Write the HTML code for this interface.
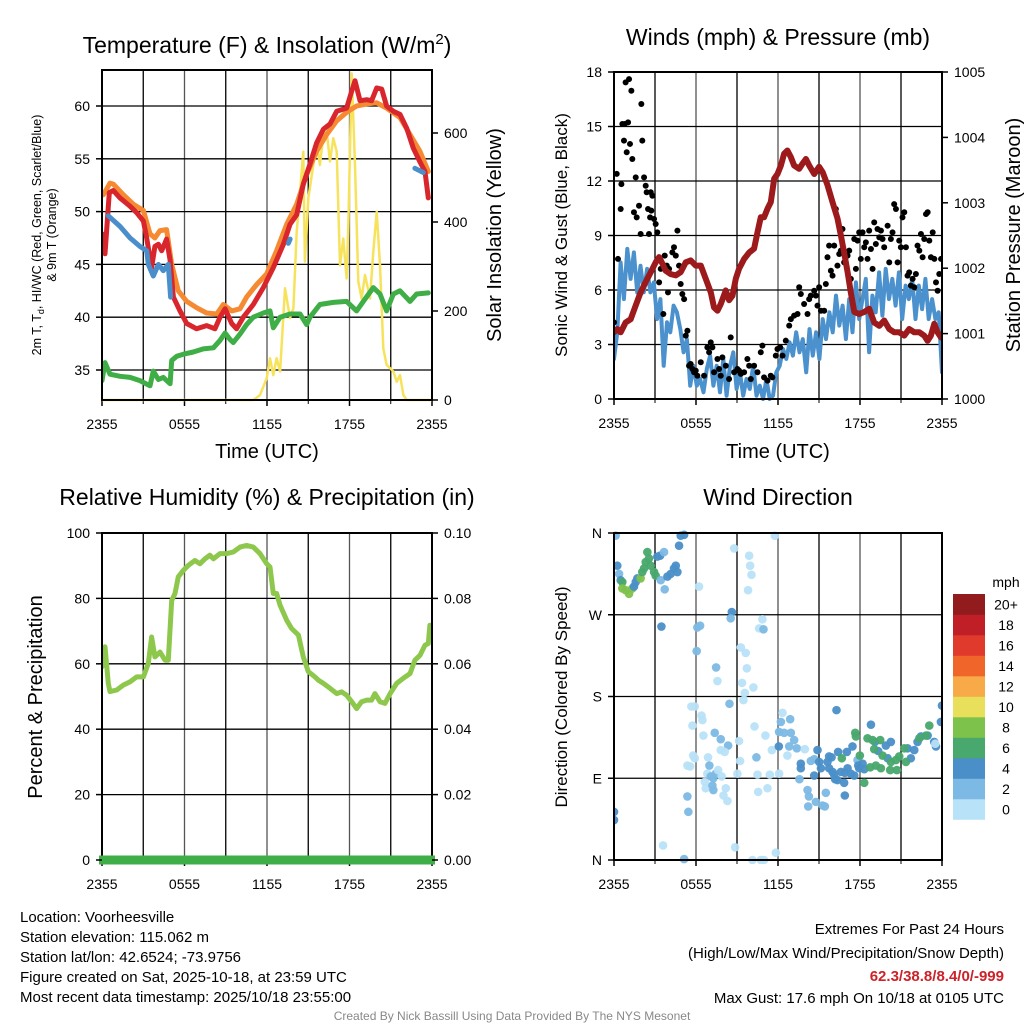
<!DOCTYPE html>
<html><head><meta charset="utf-8">
<style>
html,body{margin:0;padding:0;background:#fff;}
svg text{font-family:"Liberation Sans",Arial,sans-serif;fill:#000;}
</style></head>
<body>
<svg id="chart" width="1024" height="1024" viewBox="0 0 1024 1024" xmlns="http://www.w3.org/2000/svg">
<text x="267" y="53" font-size="23" text-anchor="middle">Temperature (F) &amp; Insolation (W/m<tspan dy="-9" font-size="15">2</tspan><tspan dy="9">)</tspan></text>
<text x="778" y="45" font-size="23" text-anchor="middle">Winds (mph) &amp; Pressure (mb)</text>
<text x="267" y="505" font-size="23" text-anchor="middle">Relative Humidity (%) &amp; Precipitation (in)</text>
<text x="778" y="505" font-size="23" text-anchor="middle">Wind Direction</text>

<text transform="translate(41,235) rotate(-90)" font-size="12.5" text-anchor="middle">2m T, T<tspan font-size="9" dy="3">d</tspan><tspan dy="-3">, HI/WC (Red, Green, Scarlet/Blue)</tspan></text>
<text transform="translate(56,235) rotate(-90)" font-size="12.5" text-anchor="middle">&amp; 9m T (Orange)</text>
<text transform="translate(501,235) rotate(-90)" font-size="20" text-anchor="middle">Solar Insolation (Yellow)</text>
<text transform="translate(567,235) rotate(-90)" font-size="17" text-anchor="middle">Sonic Wind &amp; Gust (Blue, Black)</text>
<text transform="translate(1020,235) rotate(-90)" font-size="20" text-anchor="middle">Station Pressure (Maroon)</text>
<text transform="translate(42,697) rotate(-90)" font-size="20" text-anchor="middle">Percent &amp; Precipitation</text>
<text transform="translate(567,697) rotate(-90)" font-size="17" text-anchor="middle">Direction (Colored By Speed)</text>
<text x="267" y="458" font-size="20" text-anchor="middle">Time (UTC)</text>
<text x="778" y="458" font-size="20" text-anchor="middle">Time (UTC)</text>

<g font-size="15">
<text x="20" y="922">Location: Voorheesville</text>
<text x="20" y="942">Station elevation: 115.062 m</text>
<text x="20" y="962">Station lat/lon: 42.6524; -73.9756</text>
<text x="20" y="982">Figure created on Sat, 2025-10-18, at 23:59 UTC</text>
<text x="20" y="1002">Most recent data timestamp: 2025/10/18 23:55:00</text>
</g>
<g font-size="15" text-anchor="end">
<text x="1004" y="934">Extremes For Past 24 Hours</text>
<text x="1004" y="958">(High/Low/Max Wind/Precipitation/Snow Depth)</text>
<text x="1004" y="981" font-weight="bold" style="fill:#cc2229">62.3/38.8/8.4/0/-999</text>
<text x="1004" y="1003">Max Gust: 17.6 mph On 10/18 at 0105 UTC</text>
</g>
<text x="512" y="1020" font-size="12" text-anchor="middle" style="fill:#888">Created By Nick Bassill Using Data Provided By The NYS Mesonet</text>
</svg>
<script>
// ---------- DATA ----------
const timeTickLabels = ["2355","0555","1155","1755","2355"];
// Panel 1
const tempTicks = [35,40,45,50,55,60];
const solarTicks = [0,200,400,600];
const redT = [0,.22,.53,.82,1.31,2.04,2.52,3.01,3.25,3.61,3.85,4.10,4.34,4.70,4.95,5.19,5.67,6.16,6.88,7.61,8.22,8.58,8.95,9.43,9.79,10.28,11.0,11.73,12.46,13.19,13.67,14.16,14.64,15.13,15.61,16.1,16.58,17.07,17.79,18.16,18.4,18.76,19.25,19.61,19.98,20.34,20.7,21.19,21.67,22.16,22.64,23.13,23.49,23.73];
const redV = [47.9,46.0,51.8,52.0,51.3,50.5,49.9,49.1,47.5,44.7,46.7,46.9,46.3,47.4,45.4,41.9,40.6,39.4,38.9,39.2,38.9,40.0,40.8,39.4,38.9,40.0,41.2,42.8,44.7,46.9,48.8,49.7,52.6,54.5,56.5,57.8,58.3,59.5,59.8,61.4,62.4,60.5,60.6,60.5,61.7,61.6,60.0,59.5,59.2,57.9,56.0,54.7,53.8,51.3];
const orangeT = [.1,.58,.82,1.55,2.28,3.01,3.49,3.85,4.22,4.70,5.07,5.55,6.16,6.88,7.61,8.34,8.82,9.43,10.04,10.52,11.25,11.98,12.7,13.43,14.16,14.88,15.61,16.34,17.07,17.79,18.52,19.25,19.98,20.7,21.67,22.4,23.13,23.73];
const orangeV = [51.6,52.7,52.6,51.6,50.7,50.1,47.9,47.5,48.2,48.3,45.0,42.5,41.5,40.9,40.4,40.3,41.2,40.6,40.8,41.9,43.1,44.1,46.3,48.8,50.7,53.5,55.7,57.3,58.6,59.4,60.0,60.2,60.3,59.8,58.9,57.3,55.7,53.8];
const hiwcT = [.46,1.31,2.04,2.76,3.25,3.37,3.73,4.10,4.46,4.82,4.99,null,13.55,13.68,null,22.76,23.37];
const hiwcV = [49.6,48.6,47.5,46.7,46.3,45.0,43.9,45.0,44.4,45.0,41.9,null,47.0,47.4,null,54.1,53.7];
const dewT = [0,.22,.58,1.31,2.04,2.76,3.49,3.73,4.10,4.46,4.95,5.07,5.43,5.92,6.64,7.37,8.10,8.58,8.95,9.31,9.55,10.04,10.52,11.0,11.73,12.22,12.46,12.95,13.67,14.4,14.88,15.13,15.85,16.82,17.79,18.52,19.0,19.73,20.22,20.7,21.19,21.67,22.4,22.88,23.73];
const dewV = [34.0,35.7,34.6,34.4,34.3,34.0,33.5,34.9,34.1,34.3,33.7,35.9,36.3,36.5,36.7,37.0,37.1,37.8,38.5,37.9,37.6,38.4,39.3,40.0,40.4,40.6,39.0,40.0,40.3,40.3,39.3,40.0,41.2,41.4,41.5,40.6,41.5,42.8,42.2,40.6,42.2,42.5,41.5,42.2,42.3];
const solarT = [0,11.0,11.49,11.98,12.22,12.46,12.7,12.95,13.31,13.67,13.92,14.16,14.4,14.64,14.76,15.0,15.37,15.61,15.85,16.1,16.34,16.58,16.82,17.07,17.31,17.55,17.79,17.92,18.16,18.4,18.64,18.88,19.13,19.49,19.73,19.98,20.22,20.46,20.7,21.19,21.43,21.67,21.92,22.16,24];
const solarV = [0,0,11,49,94,56,94,64,251,184,206,378,468,558,311,453,528,581,528,596,603,536,588,558,303,363,273,400,734,528,266,228,281,228,333,423,303,116,79,64,41,56,11,0,0];
// Panel 2
const windTicks = [0,3,6,9,12,15,18];
const presTicks = [1000,1001,1002,1003,1004,1005];
const sonicV = [2.20,3.67,7.52,5.50,8.26,6.61,8.07,5.87,7.34,5.87,7.16,5.87,6.42,4.40,5.50,1.83,4.22,3.67,5.14,4.77,3.85,2.57,3.30,0.73,1.83,0.73,1.10,0.37,1.65,2.39,0.73,1.83,0.37,2.20,0.18,1.83,2.57,0.55,1.47,0.18,1.10,0.55,1.83,0.18,0.73,0,1.10,0,0.18,1.47,1.83,2.75,2.20,3.12,2.39,3.67,2.57,3.30,1.47,3.85,2.39,3.67,2.20,4.40,3.30,4.77,3.67,5.69,4.04,5.14,3.30,5.50,3.67,6.42,4.40,5.50,6.61,2.57,5.69,4.77,6.97,4.59,7.16,5.50,6.61,5.14,6.97,4.40,6.24,5.50,6.61,4.40,6.24,4.95,6.61,4.40,5.50,4.40,4.77,1.47];
const gustT = [0,.20,.29,.49,.54,.61,.73,.78,.85,.93,1.03,1.10,1.17,1.27,1.34,1.46,1.59,1.66,1.83,1.95,2.00,2.07,2.20,2.32,2.39,2.49,2.56,2.64,2.69,2.73,2.81,2.93,3.05,3.17,3.30,3.42,3.61,3.71,3.86,3.95,4.03,4.27,4.39,4.52,4.64,4.76,4.88,5.00,5.13,5.25,5.37,5.49,5.61,5.74,5.86,5.98,6.10,6.35,6.59,6.83,6.96,7.08,7.20,7.32,7.57,7.69,7.81,7.93,8.18,8.42,8.54,8.79,9.03,9.15,9.28,9.52,9.76,9.89,10.01,10.25,10.50,10.74,10.86,10.98,11.23,11.47,11.59,11.84,11.96,12.16,12.33,12.57,12.82,12.94,13.18,13.43,13.55,13.67,13.91,14.16,14.28,14.40,14.65,14.77,14.89,15.01,15.14,15.38,15.50,15.62,15.74,15.87,15.99,16.11,16.23,16.35,16.48,16.60,16.72,16.84,17.09,17.21,17.33,17.58,17.70,17.82,17.94,18.06,18.19,18.31,18.43,18.55,18.67,18.80,18.92,19.04,19.16,19.28,19.41,19.53,19.65,19.77,20.02,20.14,20.26,20.38,20.50,20.63,20.75,20.87,20.99,21.11,21.24,21.36,21.48,21.60,21.72,21.85,21.97,22.09,22.21,22.34,22.46,22.58,22.70,22.83,22.95,23.07,23.19,23.32,23.44,23.56,23.68,23.80,23.93];
const gustV = [4.22,12.39,7.71,10.46,11.83,15.14,14.22,15.14,17.43,13.58,15.23,17.61,14.04,16.97,13.21,10.28,12.20,10.00,10.64,9.08,16.24,14.22,12.20,11.74,11.38,10.46,9.08,10.00,11.38,10.37,11.19,9.91,9.63,9.17,6.42,7.16,4.68,7.89,7.34,5.87,7.16,8.07,8.35,7.89,9.27,7.34,6.33,5.78,5.50,3.49,3.76,1.83,1.93,1.65,1.47,1.56,1.28,2.02,1.28,2.84,2.57,3.12,2.84,1.47,2.20,1.65,1.28,2.29,1.83,1.10,3.39,1.47,1.65,1.56,1.38,1.47,2.20,1.83,1.10,1.83,1.47,2.57,2.94,1.19,1.01,1.28,1.19,2.39,2.75,2.84,2.39,3.21,4.04,4.40,4.59,4.68,6.15,5.78,5.23,4.68,5.50,5.69,5.96,5.69,5.14,6.15,4.86,4.86,6.33,7.80,8.44,7.06,6.79,8.44,10.46,7.34,7.98,8.17,9.36,7.52,7.89,8.17,6.61,8.81,7.16,8.72,9.17,7.71,9.17,8.35,8.62,7.71,9.27,8.26,7.16,9.72,8.53,9.36,8.90,9.27,8.81,8.35,9.54,7.52,8.81,9.17,10.73,10.46,7.52,8.72,8.35,10.00,10.28,8.35,6.79,6.97,6.24,6.61,6.15,6.88,8.44,8.17,9.08,7.80,8.81,10.18,10.28,8.72,7.80,9.17,7.71,6.42,5.96,6.88,7.71];
const presT = [0,.24,.49,.85,1.22,1.59,1.95,2.32,2.69,3.05,3.30,3.54,3.78,4.15,4.52,4.88,5.25,5.61,5.98,6.35,6.71,7.08,7.32,7.57,7.81,8.18,8.42,8.67,8.91,9.15,9.52,9.89,10.25,10.50,10.74,10.98,11.23,11.47,11.72,11.96,12.21,12.45,12.69,12.94,13.18,13.55,13.79,14.04,14.28,14.65,15.01,15.26,15.62,15.99,16.35,16.60,16.84,17.09,17.33,17.58,17.94,18.31,18.67,19.04,19.41,19.77,20.14,20.50,20.87,21.24,21.60,21.97,22.34,22.70,22.95,23.19,23.44,23.68,23.93];
const presV = [1001.02,1001.07,1001.02,1001.17,1001.22,1001.43,1001.63,1001.79,1001.94,1002.09,1002.17,1002.07,1001.96,1001.91,1001.89,1001.94,1002.09,1002.12,1002.04,1002.04,1001.84,1001.63,1001.40,1001.35,1001.45,1001.66,1001.51,1001.58,1001.84,1001.99,1002.14,1002.24,1002.30,1002.55,1002.78,1002.78,1002.91,1003.01,1003.37,1003.44,1003.57,1003.75,1003.80,1003.70,1003.57,1003.52,1003.60,1003.67,1003.57,1003.44,1003.55,1003.47,1003.27,1003.01,1002.76,1002.50,1002.24,1001.94,1001.63,1001.33,1001.30,1001.33,1001.38,1001.17,1001.12,1001.20,1001.07,1001.02,1001.02,1000.97,1001.07,1001.02,1001.02,1000.97,1000.89,1000.97,1001.15,1001.02,1000.94];
// Panel 3
const rhTicks = [0,20,40,60,80,100];
const precipTicks = ["0.00","0.02","0.04","0.06","0.08","0.10"];
const rhT = [0,.22,.46,.58,1.07,1.55,2.04,2.52,3.01,3.37,3.61,3.85,4.22,4.58,4.82,5.07,5.31,5.55,5.92,6.28,6.76,7.13,7.49,7.85,8.10,8.58,9.07,9.55,10.04,10.52,11.0,11.49,11.98,12.22,12.46,12.70,12.95,13.43,13.79,14.28,14.64,15.0,15.49,15.73,16.1,16.58,17.07,17.43,17.79,18.16,18.52,18.88,19.25,19.61,19.85,20.22,20.58,20.95,21.43,21.92,22.40,22.76,23.13,23.49,23.73,23.85];
const rhV = [59.1,65.2,54.0,51.5,52.0,53.5,54.5,56.0,56.0,60.1,68.2,62.1,63.6,61.1,61.1,79.4,81.5,86.6,88.6,90.1,91.6,90.6,92.1,93.2,92.1,93.7,93.7,94.2,95.7,96.2,95.7,93.7,90.6,89.6,81.5,81.5,77.9,73.3,70.8,68.8,62.1,57.6,56.0,55.0,54.0,52.5,50.9,51.4,50.4,48.4,46.3,48.4,48.9,48.9,50.9,48.4,47.9,50.9,54.0,55.6,57.0,61.1,62.6,65.7,66.2,71.8];
const precipT = [0,24];
const precipV = [0,0];
// Panel 4
const dirTickLabels = ["N","E","S","W","N"];
const speedBins = ["0","2","4","6","8","10","12","14","16","18","20+"];
const speedColors = ["#b8e2f7","#7cb9e4","#4a8fc8","#48a86d","#7dc24b","#e8df5a","#f8a948","#f06529","#e03a2c","#c01f28","#921b1e"];
const wdT = [.12,.24,.37,.49,.61,.61,.85,1.10,1.34,1.46,1.59,1.71,1.95,2.07,2.20,2.32,2.44,2.56,2.69,2.93,3.05,3.17,3.37,3.42,3.66,3.71,3.91,4.15,4.39,4.52,4.64,4.76,4.88,5.13,3.47,6.10,6.30,6.05,6.22,8.62,8.54,8.79,9.89,9.96,10.06,9.81,10.86,10.62,10.94,9.28,9.64,7.47,7.57,9.72,9.37,9.57,10.20,9.47,11.77,5.66,5.91,6.40,6.47,5.74,6.54,7.37,7.81,8.35,8.10,8.45,7.81,5.79,5.91,5.37,5.57,6.88,6.98,6.83,7.08,7.27,7.45,7.88,7.62,6.64,6.71,7.20,7.27,8.18,8.01,8.30,5.37,5.44,0,0,3.59,8.86,5.13,10.13,10.74,10.98,11.84,9.15,9.23,9.03,10.28,11.08,10.42,10.50,10.55,11.23,11.40,11.55,12.08,12.33,12.21,12.89,12.08,12.45,12.94,13.18,12.82,13.38,12.69,13.96,12.06,13.67,13.67,13.57,14.16,14.26,14.21,14.77,15.26,15.43,15.50,14.40,14.65,14.89,15.01,15.14,14.65,15.74,15.92,15.62,15.74,15.99,16.11,16.35,16.60,16.89,17.09,17.33,17.58,17.94,18.31,16.84,16.89,16.28,16.40,17.04,17.45,17.82,17.87,18.19,18.80,19.09,20.26,19.89,19.33,20.02,21.48,21.72,21.97,22.21,22.46,22.95,23.43,23.56,23.92,24.0,23.51,16.18,16.67,17.65,17.99,18.31,18.55,18.92,19.48,19.04,19.16,19.65,20.26,20.21,20.70,20.63,20.87,21.24,21.36,22.34,22.83,23.07,18.75,19.53,17.70];
const wdDir = [357,324,315,308,306,299,297,293,299,301,306,310,310,317,321,328,339,332,324,317,313,334,335,308,339,298,312,315,321,324,317,346,357,358,257,256,258,230,301,273,266,343,335,324,314,297,265,255,254,234,228,212,197,211,195,184,190,176,357,169,169,159,154,148,137,140,133,126,119,172,121,115,112,104,103,113,104,95,92,90,95,92,99,86,79,82,77,79,71,65,70,53,53,44,16,14,1,0,0,0,8,131,109,95,147,137,113,94,75,79,94,121,95,162,152,155,141,140,140,132,125,123,115,122,125,106,101,89,77,70,59,64,60,59,74,109,111,121,108,101,93,114,113,108,101,97,94,88,97,96,101,95,93,101,100,85,71,165,119,119,125,110,104,106,149,130,130,126,120,112,123,112,121,130,136,137,130,125,152,170,128,89,112,140,115,85,134,132,132,122,104,115,108,99,99,110,114,123,108,134,137,148,102,101,136];
const wdSpd = [3,5,3,5,7,9,9,9,9,5,5,5,9,7,7,7,7,7,7,7,7,5,5,3,3,3,5,5,5,5,5,5,5,5,5,3,3,3,1,5,3,1,1,1,1,1,1,1,3,1,1,3,1,1,1,1,1,1,1,1,1,1,1,1,1,3,3,3,1,3,1,1,1,1,1,1,3,1,3,3,3,1,1,1,1,3,3,1,1,1,3,3,5,5,1,1,3,1,1,1,1,1,1,1,1,1,3,1,1,1,1,1,1,1,3,3,3,3,3,3,3,3,1,1,5,5,5,3,3,3,3,3,3,3,3,3,3,5,5,5,5,5,5,5,5,5,5,5,5,5,5,5,5,5,5,5,5,5,5,5,5,3,5,5,5,5,5,5,5,5,5,5,5,5,5,5,5,5,5,5,1,5,7,7,7,7,7,7,7,7,7,7,7,7,7,7,7,7,7,7,7,7,7,7,7,5];

// ---------- DRAWING ----------
const NS = "http://www.w3.org/2000/svg";
const svg = document.getElementById("chart");
function mk(tag, attrs, parent) {
  const e = document.createElementNS(NS, tag);
  for (const k in attrs) e.setAttribute(k, attrs[k]);
  (parent || svg).appendChild(e);
  return e;
}
function lin(d0, d1, r0, r1) { return v => r0 + (v - d0) / (d1 - d0) * (r1 - r0); }

const panels = {
  temp: {x0:102,x1:432,y0:70,y1:400},
  wind: {x0:614,x1:942,y0:72,y1:399},
  rh:   {x0:102,x1:432,y0:533,y1:860},
  dir:  {x0:614,x1:942,y0:533,y1:860}
};

function drawFrame(key, p, hLines) {
  const g = mk("g", {});
  
  
  const xs = lin(0, 24, p.x0, p.x1);
  for (let h = 3; h < 24; h += 3) {
    const gl = mk("line", {x1:xs(h), x2:xs(h), y1:p.y0, y2:p.y1, stroke: h%6===0 ? "#555" : "#000", "stroke-width":1.3}, g);
    
    
  }
  hLines.forEach(y => {
    const gl = mk("line", {x1:p.x0, x2:p.x1, y1:y, y2:y, stroke:"#000", "stroke-width":1.3}, g);
    
    
  });
  // x ticks + labels
  timeTickLabels.forEach((lab, i) => {
    const x = xs(i * 6);
    mk("line", {x1:x, x2:x, y1:p.y1, y2:p.y1+6, stroke:"#000", "stroke-width":1.5}, g);
    const t = mk("text", {x:x, y:p.y1+29, "font-size":14, "text-anchor":"middle"}, g);
    t.textContent = lab;
    
    
  });
  for (let h = 3; h < 24; h += 6) mk("line", {x1:xs(h), x2:xs(h), y1:p.y1, y2:p.y1+4, stroke:"#000"}, g);
  return g;
}
function frameBox(p) {
  const r = mk("rect", {x:p.x0, y:p.y0, width:p.x1-p.x0, height:p.y1-p.y0, fill:"none", stroke:"#000", "stroke-width":2});
  
  
}
function yTicks(p, vals, labels, ys, side, fs) {
  vals.forEach((v, i) => {
    const y = ys(v);
    const x = side === "left" ? p.x0 : p.x1;
    const d = side === "left" ? -6 : 6;
    mk("line", {x1:x, x2:x+d, y1:y, y2:y, stroke:"#000", "stroke-width":1.5});
    const t = mk("text", {x: side === "left" ? x-12 : x+12, y:y+5, "font-size":fs||14, "text-anchor": side === "left" ? "end" : "start"});
    t.textContent = labels[i];
    
    
  });
}
function clip(id, p) {
  const c = mk("clipPath", {id:id});
  mk("rect", {x:p.x0, y:p.y0-4, width:p.x1-p.x0, height:p.y1-p.y0+8}, c);
}
function pathFrom(ts, vs, xs, ys) {
  let d = "", pen = false;
  for (let i = 0; i < ts.length; i++) {
    if (ts[i] === null || vs[i] === null) { pen = false; continue; }
    d += (pen ? "L" : "M") + xs(ts[i]).toFixed(1) + "," + ys(vs[i]).toFixed(1);
    pen = true;
  }
  return d;
}
function series(name, ts, vs, xs, ys, color, w, clipId) {
  const pth = mk("path", {d:pathFrom(ts, vs, xs, ys), fill:"none", stroke:color, "stroke-width":w, "stroke-linejoin":"round", "stroke-linecap":"round", "clip-path":"url(#"+clipId+")"});
  
  
  return pth;
}

// Panel 1
{
  const p = panels.temp;
  const xs = lin(0, 24, p.x0, p.x1);
  const ys = lin(35, 60, 370, 106);
  const ss = lin(0, 600, 400, 133);
  clip("c1", p);
  drawFrame("temp", p, tempTicks.map(ys));
  series("solar-insolation-line", solarT, solarV, xs, ss, "#f7e35b", 2.5, "c1");
  series("dewpoint-line", dewT, dewV, xs, ys, "#3fae46", 5, "c1");
  series("temp-9m-line", orangeT, orangeV, xs, ys, "#f58a32", 5, "c1");
  series("temp-2m-line", redT, redV, xs, ys, "#d8262c", 5, "c1");
  series("heat-index-windchill-line", hiwcT, hiwcV, xs, ys, "#4a8fcb", 5, "c1");
  frameBox(p);
  yTicks(p, tempTicks, tempTicks, ys, "left");
  yTicks(p, solarTicks, solarTicks, ss, "right");
}
// Panel 2
{
  const p = panels.wind;
  const xs = lin(0, 24, p.x0, p.x1);
  const ys = lin(0, 18, p.y1, p.y0);
  const ps = lin(1000, 1005, p.y1, p.y0);
  clip("c2", p);
  drawFrame("wind", p, windTicks.slice(1, -1).map(ys));
  const sonicT = sonicV.map((v, i) => i * 24 / (sonicV.length - 1));
  series("sonic-wind-line", sonicT, sonicV, xs, ys, "#4b91cd", 4, "c2");
  const gd = mk("g", {"clip-path":"url(#c2)"});
  
  
  gustT.forEach((t, i) => {
    const c = mk("circle", {cx:xs(t), cy:ys(gustV[i]), r:3, fill:"#000"}, gd);
    
    
  });
  series("station-pressure-line", presT, presV, xs, ps, "#9c1a1c", 6, "c2");
  frameBox(p);
  yTicks(p, windTicks, windTicks, ys, "left");
  yTicks(p, presTicks, presTicks, ps, "right");
}
// Panel 3
{
  const p = panels.rh;
  const xs = lin(0, 24, p.x0, p.x1);
  const ys = lin(0, 100, p.y1, p.y0);
  clip("c3", p);
  drawFrame("rh", p, rhTicks.slice(1, -1).map(ys));
  series("relative-humidity-line", rhT, rhV, xs, ys, "#8dc84c", 5, "c3");
  frameBox(p);
  const pp = mk("path", {d:pathFrom(precipT, precipV, lin(0,24,p.x0-3,p.x1+3), lin(0,0.1,p.y1,p.y0)), stroke:"#3fae46", "stroke-width":9, fill:"none"});
  
  
  yTicks(p, rhTicks, rhTicks, ys, "left");
  yTicks(p, rhTicks, precipTicks, ys, "right");
}
// Panel 4
{
  const p = panels.dir;
  const xs = lin(0, 24, p.x0, p.x1);
  const ys = lin(0, 360, p.y1, p.y0);
  clip("c4", p);
  drawFrame("dir", p, [90,180,270].map(ys));
  const gd = mk("g", {"clip-path":"url(#c4)"});
  
  
  wdT.forEach((t, i) => {
    const bin = Math.min(10, Math.floor(wdSpd[i] / 2));
    const c = mk("circle", {cx:xs(t), cy:ys(wdDir[i]), r:4.3, fill:speedColors[bin], "fill-opacity":0.95}, gd);
    
    
  });
  frameBox(p);
  yTicks(p, [0,90,180,270,360], dirTickLabels, ys, "left");
  // colorbar
  const cb = mk("g", {});
  
  
  const top = 594, bh = 20.5;
  const tt = mk("text", {x:1006, y:587, "font-size":14, "text-anchor":"middle"}, cb);
  tt.textContent = "mph";
  speedBins.forEach((lab, i) => {
    const y = top + (10 - i) * bh;
    const r = mk("rect", {x:953, y:y, width:32, height:bh+0.3, fill:speedColors[i]}, cb);
    
    
    const t = mk("text", {x:1006, y:y+bh/2+5, "font-size":14, "text-anchor":"middle"}, cb);
    t.textContent = lab;
    
    
  });
}
</script>
</body></html>
